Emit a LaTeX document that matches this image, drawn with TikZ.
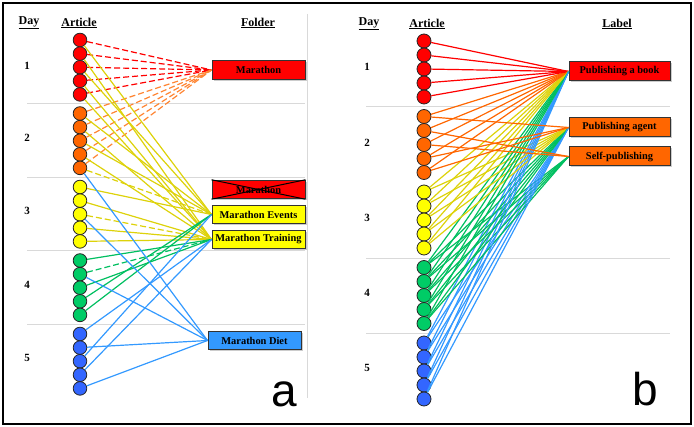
\documentclass[tikz,border=0pt]{standalone}
\usepackage{fontspec}
\setmainfont{Liberation Serif}
\newfontfamily\tagfont{Liberation Sans}
\usetikzlibrary{shadows}
\definecolor{cred}{HTML}{FF0000}
\definecolor{corange}{HTML}{FF6600}
\definecolor{cyellow}{HTML}{FFFF00}
\definecolor{cgreen}{HTML}{00CC66}
\definecolor{cblue}{HTML}{3366FF}
\definecolor{lorange}{HTML}{FF8533}
\definecolor{lyellow}{HTML}{DDD20A}
\definecolor{lgreen}{HTML}{00BF60}
\definecolor{lblue}{HTML}{3399FF}
\definecolor{sepgray}{HTML}{D9D9D9}
\tikzset{
  art/.style={circle,draw=black!85,line width=0.8pt,minimum size=13.6pt,inner sep=0pt},
  folder/.style={draw=black!80,line width=1pt,minimum width=93pt,minimum height=18.5pt,inner sep=0pt,
    font=\bfseries\fontsize{10.4}{12}\selectfont,drop shadow={shadow xshift=1.5pt,shadow yshift=-1.5pt,fill=black!40}},
  head/.style={font=\bfseries\fontsize{12}{14}\selectfont},
  daynum/.style={font=\bfseries\fontsize{11}{13}\selectfont},
  link/.style={line width=1.2pt},
  dlink/.style={line width=1.2pt,dash pattern=on 6pt off 3pt},
  tag/.style={font=\tagfont\fontsize{46}{46}\selectfont,anchor=base,inner sep=0pt}
}
\begin{document}
\begin{tikzpicture}[x=1pt,y=-1pt]
\useasboundingbox (0,0) rectangle (694,427);
\draw[line width=2pt] (3,3) rectangle (691,424);
\draw[sepgray,line width=0.8pt] (307,14) -- (307,398);
% panel a: folders
\node[head] (adayh) at (29,23) {\underline{Day}};
\node[head] (aarth) at (79,23) {\underline{Article}};
\node[head] (afolh) at (258,23) {\underline{Folder}};
\foreach \y in {103.5,177,250.5,324.5} \draw[sepgray,line width=0.8pt] (27,\y) -- (305,\y);
\foreach \d/\y in {1/66,2/138,3/211,4/285,5/358} \node[daynum] (aday\d) at (27,\y) {\d};
\foreach \c [count=\g] in {cred,corange,cyellow,cgreen,cblue}
  \foreach \i in {1,...,5}
    \node[art,fill=\c] (a\g\i) at (80,{40+(\g-1)*73.5+(\i-1)*13.6}) {};
\node[folder,fill=cred] (mar) at (258.5,70) {Marathon};
\node[folder,fill=cred] (marx) at (258.5,189.5) {Marathon};
\draw[line width=1pt] (marx.north west) -- (marx.south east) (marx.north east) -- (marx.south west);
\node[folder,fill=cyellow] (mev) at (258.5,214.5) {Marathon Events};
\node[folder,fill=cyellow] (mtr) at (258.5,239.5) {Marathon Training};
\node[folder,fill=lblue] (mdi) at (254.5,340.5) {Marathon Diet};
\foreach \i in {1,...,5} \draw[dlink,cred] (a1\i) -- (mar.west);
\foreach \i in {1,...,5} \draw[dlink,lorange] (a2\i) -- (mar.west);
\foreach \s/\t in {11/mev,12/mtr,13/mev,14/mtr,15/mtr,21/mev,22/mtr,23/mev,24/mtr,31/mev,32/mtr,34/mtr,35/mtr}
  \draw[link,lyellow] (a\s) -- (\t.west);
\draw[dlink,lyellow] (a25) -- (mev.west);
\draw[dlink,lyellow] (a33) -- (mtr.west);
\foreach \s/\t in {41/mtr,43/mtr,44/mev,45/mev} \draw[link,lgreen] (a\s) -- (\t.west);
\draw[dlink,lgreen] (a42) -- (mtr.west);
\foreach \s/\t in {25/mdi,33/mdi,42/mdi,51/mtr,52/mdi,53/mev,54/mtr,55/mdi}
  \draw[link,lblue] (a\s) -- (\t.west);
\node[tag] (taga) at (284,407) {a};
% panel b: labels
\node[head] (bdayh) at (369,24) {\underline{Day}};
\node[head] (barth) at (427,24) {\underline{Article}};
\node[head] (blabh) at (617,24) {\underline{Label}};
\foreach \y in {106.5,258,333.5} \draw[sepgray,line width=0.8pt] (366,\y) -- (670,\y);
\foreach \d/\y in {1/67,2/143,3/218,4/293,5/368} \node[daynum] (bday\d) at (367,\y) {\d};
\foreach \c [count=\g] in {cred,corange,cyellow,cgreen,cblue}
  \foreach \i in {1,...,5}
    \node[art,fill=\c,minimum size=14pt] (b\g\i) at (424,{41+(\g-1)*75.5+(\i-1)*14}) {};
\node[folder,fill=cred,minimum width=101pt,minimum height=19pt] (book) at (619.5,71.5) {Publishing a book};
\node[folder,fill=corange,minimum width=101pt,minimum height=19pt] (agent) at (619.5,127.5) {Publishing agent};
\node[folder,fill=corange,minimum width=101pt,minimum height=19pt] (self) at (619.5,156.5) {Self-publishing};
\foreach \i in {1,...,5} {
  \draw[link,cred] (b1\i) -- (book.west);
  \draw[link,corange] (b2\i) -- (book.west);
  \draw[link,lyellow] (b3\i) -- (book.west);
  \draw[link,lyellow] (b3\i) -- (agent.west);
  \draw[link,lgreen] (b4\i) -- (book.west);
  \draw[link,lgreen] (b4\i) -- (agent.west);
  \draw[link,lgreen] (b4\i) -- (self.west);
  \draw[link,lblue] (b5\i) -- (book.west);
  \draw[link,lblue] (b5\i) -- (agent.west);
}
\foreach \s/\t in {21/agent,22/self,23/self,24/agent,25/agent} \draw[link,corange] (b\s) -- (\t.west);
\node[tag] (tagb) at (645,406) {b};
\end{tikzpicture}
\end{document}
